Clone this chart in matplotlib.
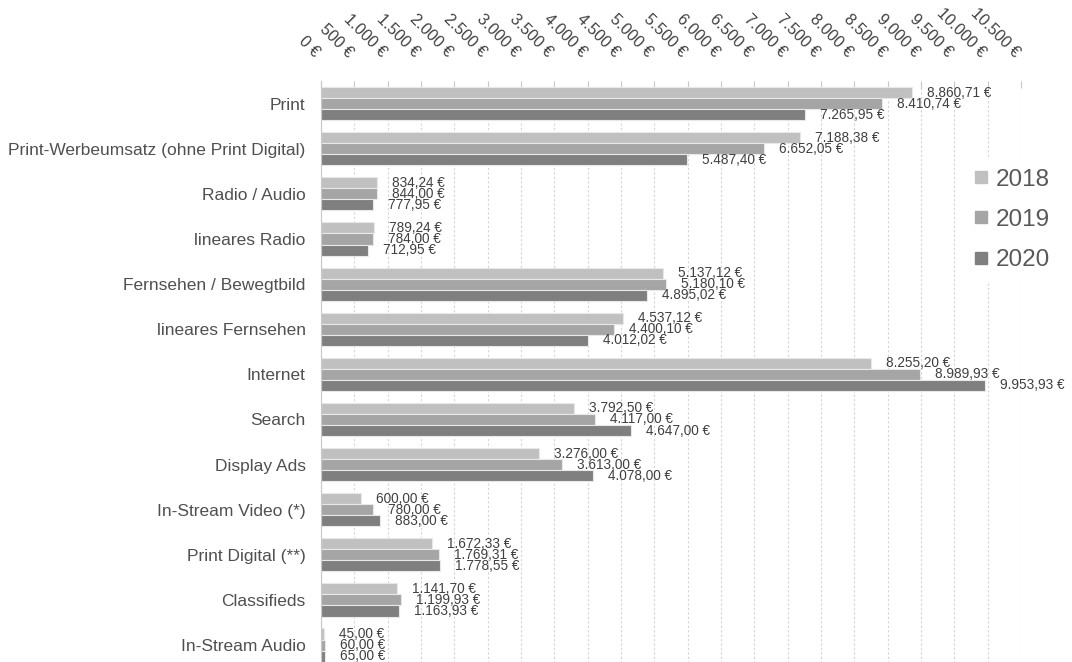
import matplotlib
matplotlib.use("Agg")
import matplotlib.pyplot as plt
import matplotlib.transforms as mtransforms
from matplotlib.lines import Line2D
import numpy as np

plt.rcParams['font.family'] = ['Liberation Sans', 'DejaVu Sans']

categories = ["Print", "Print-Werbeumsatz (ohne Print Digital)", "Radio / Audio",
              "lineares Radio", "Fernsehen / Bewegtbild", "lineares Fernsehen",
              "Internet", "Search", "Display Ads", "In-Stream Video (*)",
              "Print Digital (**)", "Classifieds", "In-Stream Audio"]
years = ["2018", "2019", "2020"]
values_2018 = [8860.71, 7188.38, 834.24, 789.24, 5137.12, 4537.12, 8255.20,
               3792.50, 3276.00, 600.00, 1672.33, 1141.70, 45.00]
values_2019 = [8410.74, 6652.05, 844.00, 784.00, 5180.10, 4400.10, 8989.93,
               4117.00, 3613.00, 780.00, 1769.31, 1199.93, 60.00]
values_2020 = [7265.95, 5487.40, 777.95, 712.95, 4895.02, 4012.02, 9953.93,
               4647.00, 4078.00, 883.00, 1778.55, 1163.93, 65.00]
colors = ["#c0c0c0", "#a5a5a5", "#7f7f7f"]
tick_values = list(range(0, 10501, 500))


def euro(v, decimals=2):
    s = f"{v:,.{decimals}f}"
    s = s.replace(",", "X").replace(".", ",").replace("X", ".")
    return s + " €"


fig = plt.figure(figsize=(10.72, 6.62), dpi=100)
ax = fig.add_axes([0.2994, -0.0085, 0.653, 0.886])

y = np.arange(len(categories))
h = 0.245
series = [values_2018, values_2019, values_2020]
for i, (vals, col) in enumerate(zip(series, colors)):
    pos = y + (i - 1) * h
    ax.barh(pos, vals, height=h, color=col, edgecolor="#e8e8e8", linewidth=0.8, zorder=2)
    for p, v in zip(pos, vals):
        ax.annotate(euro(v), (v, p), xytext=(15, 0), textcoords="offset pixels",
                    ha="left", va="center", fontsize=9.8, color="#404040")

ax.set_ylim(len(categories) - 0.5, -0.5)
ax.set_xlim(0, 10500)
ax.set_yticks(y)
ax.set_yticklabels(categories, fontsize=12.5, color="#505050")
ax.tick_params(axis="y", length=0, pad=11)

ax.xaxis.tick_top()
ax.set_xticks(tick_values)
ax.set_xticklabels([euro(v, 0) for v in tick_values], rotation=-45, ha="right",
                   va="center", rotation_mode="anchor", fontsize=11.5, color="#404040")
ax.tick_params(axis="x", direction="in", length=5, color="#c8c8c8", pad=19)
shift = mtransforms.ScaledTranslation(-4 / 100, 0, fig.dpi_scale_trans)
for lab in ax.get_xticklabels():
    lab.set_transform(lab.get_transform() + shift)
ax.grid(axis="x", color="#d4d4d4", linestyle=(0, (2, 2)), linewidth=0.8, zorder=0)

for s in ["top", "right", "bottom"]:
    ax.spines[s].set_visible(False)
ax.spines["left"].set_color("#c8c8c8")

handles = [Line2D([], [], marker="s", linestyle="", markersize=9, color=c) for c in colors]
leg = fig.legend(handles, years, loc="upper left", bbox_to_anchor=(0.897, 0.76),
                 fontsize=17.5, frameon=True, labelspacing=0.75, handletextpad=0.2,
                 handlelength=0.8, borderaxespad=0)
leg.get_frame().set_edgecolor("none")
leg.get_frame().set_facecolor("white")
leg.get_frame().set_alpha(1)
for t in leg.get_texts():
    t.set_color("#595959")

fig.savefig("out.png", dpi=100)
